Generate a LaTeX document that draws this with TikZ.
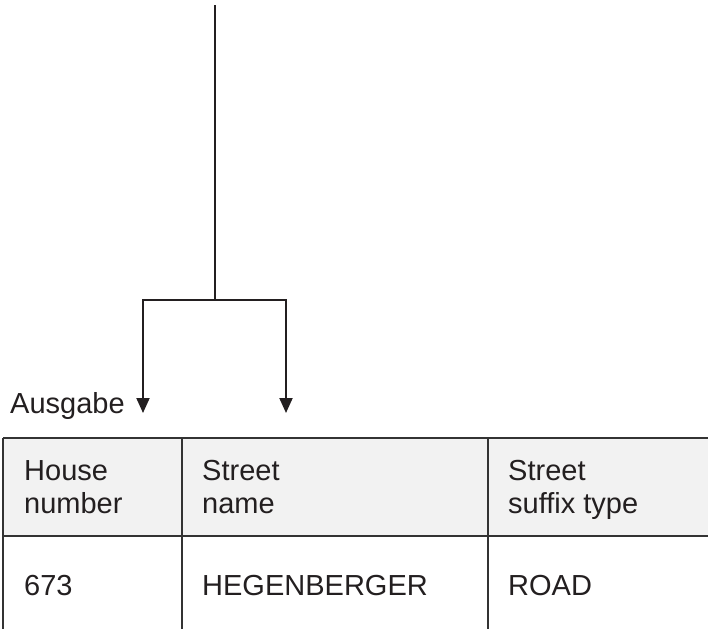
\documentclass[tikz,border=0pt]{standalone}
\usepackage{fontspec}
\setmainfont{Liberation Sans}
\usetikzlibrary{arrows.meta}
\definecolor{ink}{HTML}{231F20}
\definecolor{rule}{HTML}{333333}
\definecolor{headfill}{HTML}{F2F2F2}
\tikzset{
  wire/.style={draw=ink, line width=2pt},
  flow/.style={wire, -{Triangle[width=13pt,length=15pt]}},
  cell/.style={anchor=base west, inner sep=0pt, text=ink,
    font=\fontsize{29}{33}\selectfont},
  grid/.style={draw=rule, line width=2pt},
}
\begin{document}
\begin{tikzpicture}[x=1pt,y=-1pt]
  \useasboundingbox (0,0) rectangle (708,629);

  % branching connector
  \coordinate (src) at (215,5);
  \coordinate (fork) at (215,300);
  \coordinate (forkL) at (143,300);
  \coordinate (forkR) at (286,300);
  \coordinate (tipL) at (143,413);
  \coordinate (tipR) at (286,413);
  \draw[wire] (src) -- (fork);
  \draw[wire, line cap=rect] (forkL) -- (forkR);
  \draw[flow] (forkL) -- (tipL);
  \draw[flow] (forkR) -- (tipR);

  \node[cell] (out) at (10,413) {Ausgabe};

  % table: header band and rules (open at right and bottom)
  \fill[headfill] (3,438) rectangle (708,536);
  \draw[grid] (3,438) -- (708,438);
  \draw[grid] (3,536) -- (708,536);
  \draw[grid] (3,438) -- (3,629);
  \draw[grid] (182,438) -- (182,629);
  \draw[grid] (488,438) -- (488,629);

  % header cells
  \node[cell] (h1a) at (24,480) {House};
  \node[cell] (h1b) at (24,513) {number};
  \node[cell] (h2a) at (202,480) {Street};
  \node[cell] (h2b) at (202,513) {name};
  \node[cell] (h3a) at (508,480) {Street};
  \node[cell] (h3b) at (508,513) {suffix type};

  % data cells
  \node[cell] (d1) at (24,595) {673};
  \node[cell] (d2) at (202,595) {HEGENBERGER};
  \node[cell] (d3) at (508,595) {ROAD};
\end{tikzpicture}
\end{document}
